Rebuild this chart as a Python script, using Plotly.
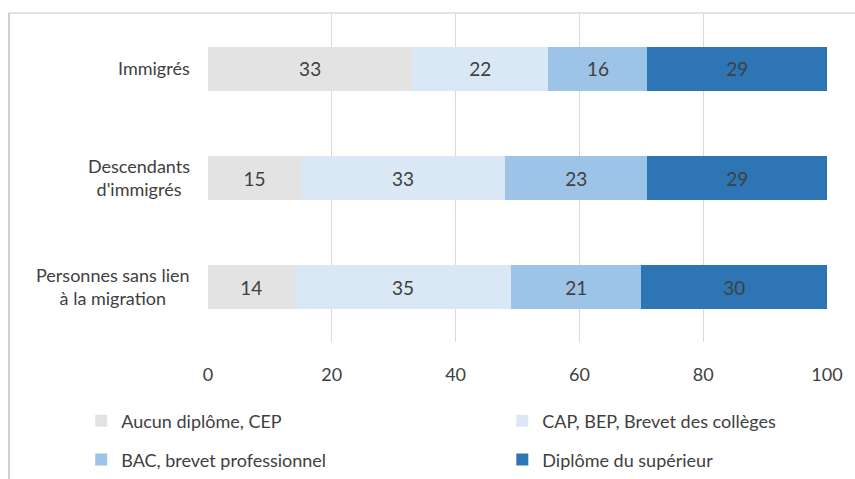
import plotly.graph_objects as go

categories = ["Immigrés", "Descendants<br>d'immigrés", "Personnes sans lien<br>à la migration"]
series_names = ["Aucun diplôme, CEP", "CAP, BEP, Brevet des collèges",
                "BAC, brevet professionnel", "Diplôme du supérieur"]
aucun = [33, 15, 14]
cap = [22, 33, 35]
bac = [16, 23, 21]
sup = [29, 29, 30]
x_ticks = [0, 20, 40, 60, 80, 100]

colors = ["#e3e3e3", "#dae7f5", "#9dc3e6", "#2e75b6"]
FONT = "Lato, Liberation Sans, sans-serif"
TXT = "#404040"

fig = go.Figure()
series = [aucun, cap, bac, sup]
legends = ["legend", "legend3", "legend2", "legend4"]
for name, vals, col, lg in zip(series_names, series, colors, legends):
    fig.add_trace(go.Bar(
        y=categories, x=vals, name=name, orientation="h",
        marker=dict(color=col, line=dict(width=0)),
        text=vals, textposition="inside", insidetextanchor="middle",
        textfont=dict(family=FONT, size=19, color=TXT),
        width=0.4, legend=lg,
    ))

fig.update_layout(
    width=855, height=479,
    barmode="stack",
    margin=dict(l=208, r=28, t=14, b=137, autoexpand=False),
    plot_bgcolor="white", paper_bgcolor="white",
    font=dict(family=FONT, size=16, color=TXT),
    xaxis=dict(range=[0, 100], tickvals=x_ticks, showgrid=True, gridcolor="#d9d9d9",
               gridwidth=1, zeroline=False, showline=False, ticks="",
               ticklabelstandoff=20, tickfont=dict(size=18, color=TXT)),
    yaxis=dict(autorange="reversed", showticklabels=False, showgrid=False,
               zeroline=False, ticks=""),
    showlegend=True,
)

leg_common = dict(orientation="v", bgcolor="rgba(0,0,0,0)", yanchor="middle",
                  xanchor="left", xref="container", yref="container",
                  font=dict(family=FONT, size=18, color=TXT),
                  itemwidth=30, tracegroupgap=0)
fig.update_layout(
    legend=dict(x=0.095, y=0.121, **leg_common),
    legend2=dict(x=0.095, y=0.040, **leg_common),
    legend3=dict(x=0.5875, y=0.121, **leg_common),
    legend4=dict(x=0.5875, y=0.040, **leg_common),
)

# category labels (right-aligned block, centered lines)
for cat in categories:
    fig.add_annotation(x=0, y=cat, xref="paper", yref="y", text=cat,
                       showarrow=False, xanchor="right", align="center",
                       xshift=-16, yshift=1, font=dict(family=FONT, size=18, color=TXT))

# frame lines (left and top border of the chart area)
fig.add_shape(type="line", xref="paper", yref="paper", x0=-0.3215, x1=1.05,
              y0=1.003, y1=1.003, line=dict(color="#d9d9d9", width=1.5))
fig.add_shape(type="line", xref="paper", yref="paper", x0=-0.3215, x1=-0.3215,
              y0=1.003, y1=-0.44, line=dict(color="#bfbfbf", width=1.5))

fig.write_html("out.html")
